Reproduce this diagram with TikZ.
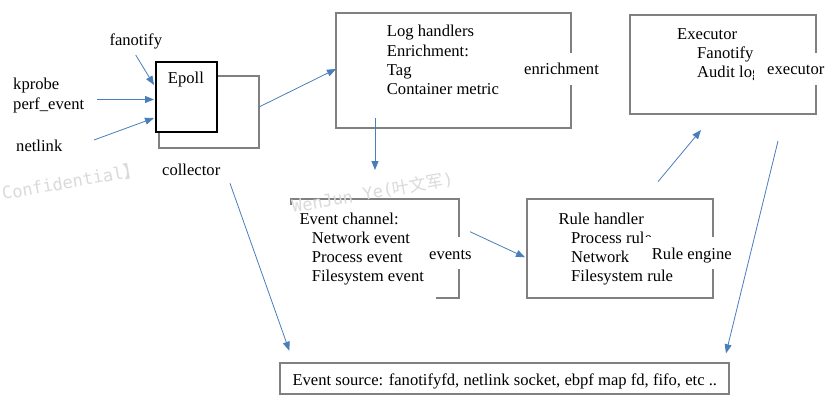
\documentclass[tikz,border=0pt]{standalone}
\usepackage{fontspec}
\setmainfont{Liberation Serif}
\newfontfamily\wmfont{DejaVu Sans Mono}
\newfontfamily\cjkfont{Noto Sans CJK SC}
\usetikzlibrary{arrows.meta}
\definecolor{arrowblue}{RGB}{74,126,187}
\definecolor{boxgray}{RGB}{128,128,128}
\definecolor{wmgray}{RGB}{218,218,218}
\begin{document}
\begin{tikzpicture}[x=1pt,y=-1pt,
  txt/.style={anchor=base west, inner sep=0pt, font=\fontsize{16.6}{19}\selectfont},
  box/.style={draw=boxgray, line width=1.2pt, anchor=north west, inner sep=0pt, outer sep=0pt},
  conn/.style={draw=arrowblue, line width=0.8pt, -{Triangle[length=9pt,width=7pt]}},
  gaplabel/.style={txt, fill=white, text height=16pt, text depth=4pt, inner ysep=6pt},
  wm/.style={anchor=base west, inner sep=0pt, text=wmgray, rotate=10, font=\wmfont\fontsize{17}{19}\selectfont}
]
\useasboundingbox[fill=white] (0,0) rectangle (832,401);

% ---- boxes ----
\node[box, minimum width=100pt, minimum height=72pt] (collbox) at (159,76) {};
\node[box, draw=black, fill=white, line width=2pt, minimum width=61pt, minimum height=70pt] (epoll) at (156,62) {};
\node[box, minimum width=235pt, minimum height=115pt] (logbox) at (336,13) {};
\node[box, minimum width=186pt, minimum height=99pt] (execbox) at (630,15) {};
\node[box, minimum width=186pt, minimum height=99pt] (rulebox) at (527,199) {};
\node[box, minimum width=449pt, minimum height=31pt] (srcbox) at (280,363) {};
\coordinate (ch1) at (291,205);
\coordinate (ch2) at (291,199);
\coordinate (ch3) at (459,199);
\coordinate (ch4) at (459,298);
\coordinate (ch5) at (436,298);
\draw[boxgray, line width=1.2pt] (ch1) -- (ch2) -- (ch3) -- (ch4) -- (ch5);

% ---- texts ----
\node[txt] (tepoll) at (167.7,84) {Epoll};
\node[txt] (tfan) at (109.3,46) {fanotify};
\node[txt] (tkprobe) at (13,90) {kprobe};
\node[txt] (tperf) at (13,109.5) {perf\_event};
\node[txt] (tnet) at (16,151) {netlink};
\node[txt] (tcoll) at (162,175) {collector};

\node[txt] (log1) at (386.7,37) {Log handlers};
\node[txt] (log2) at (386.7,56.3) {Enrichment:};
\node[txt] (log3) at (386.7,75.6) {Tag};
\node[txt] (log4) at (386.7,95) {Container metric};
\node[gaplabel, inner xsep=4pt] (tenrich) at (520,75) {enrichment};

\node[txt] (ex1) at (677,39.5) {Executor};
\node[txt] (ex2) at (697,58.5) {Fanotify};
\node[txt] (ex3) at (697,77.5) {Audit log};
\node[gaplabel, inner xsep=13pt] (texec) at (754,75) {executor};

\node[txt] (ch1t) at (299.3,224.5) {Event channel:};
\node[txt] (ch2t) at (311.7,243.5) {Network event};
\node[txt] (ch3t) at (311.7,262.5) {Process event};
\node[txt] (ch4t) at (311.7,281.5) {Filesystem event};
\node[gaplabel, inner xsep=4pt] (tevents) at (425,259) {events};

\node[txt] (ru1) at (558.3,224.5) {Rule handler};
\node[txt] (ru2) at (571,243.5) {Process rule};
\node[txt] (ru3) at (571,262.5) {Network};
\node[txt] (ru4) at (571,281.5) {Filesystem rule};
\node[gaplabel, inner xsep=8.7pt] (trule) at (643,259) {Rule engine};

\node[txt] (tsrc) at (292.3,385) {Event source: fanotifyfd, netlink socket, ebpf map fd, fifo, etc ..};

% ---- connector end points ----
\coordinate (a1s) at (135.7,55);   \coordinate (a1e) at (154,85);
\coordinate (a2s) at (97,99.5);    \coordinate (a2e) at (154,99.5);
\coordinate (a3s) at (94,140);     \coordinate (a3e) at (154,118);
\coordinate (a4s) at (259,107);    \coordinate (a4e) at (336,69);
\coordinate (a5s) at (375,118);    \coordinate (a5e) at (375,170);
\coordinate (a6s) at (470,231.7);  \coordinate (a6e) at (525,257.3);
\coordinate (a7s) at (658,181.7);  \coordinate (a7e) at (701,130);
\coordinate (a8s) at (778,141);    \coordinate (a8e) at (726,353.3);
\coordinate (a9s) at (230,183.3);  \coordinate (a9e) at (289.3,350.7);

\draw[conn] (a1s) -- (a1e);
\draw[conn] (a2s) -- (a2e);
\draw[conn] (a3s) -- (a3e);
\draw[conn] (a4s) -- (a4e);
\draw[conn] (a5s) -- (a5e);
\draw[conn] (a6s) -- (a6e);
\draw[conn] (a7s) -- (a7e);
\draw[conn] (a8s) -- (a8e);
\draw[conn] (a9s) -- (a9e);

% ---- watermark ----
\node[wm] (wm1) at (3,200) {Confidential{\cjkfont 】}};
\node[wm] (wm2) at (293,213) {WenJun Ye({\cjkfont 叶文军})};
\end{tikzpicture}
\end{document}
